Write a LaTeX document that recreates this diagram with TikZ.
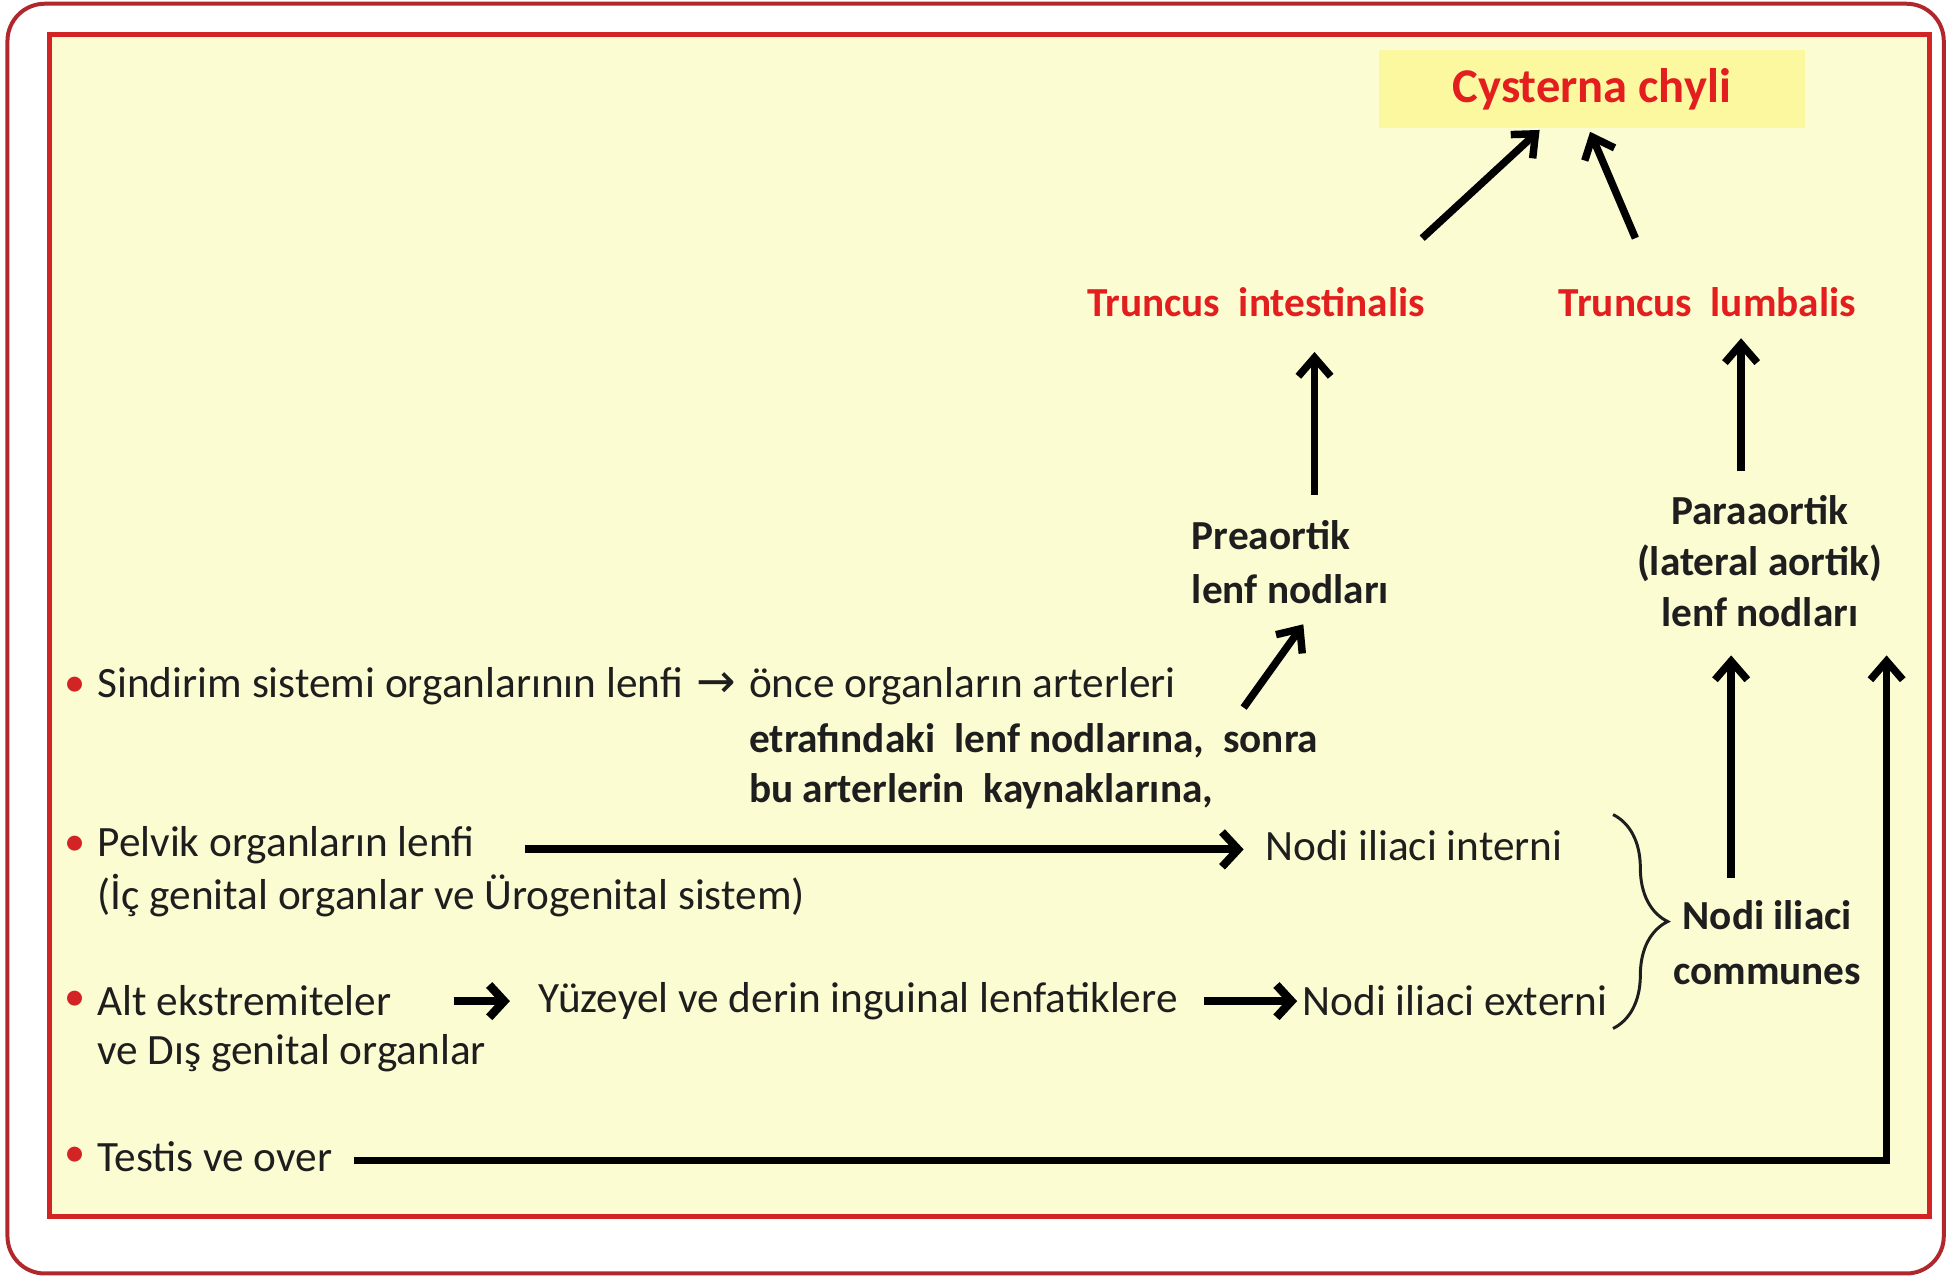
\documentclass[tikz,border=0pt]{standalone}
\usepackage{fontspec}
\setmainfont{Carlito}
\newfontfamily\arrowfont{DejaVu Sans}
\usetikzlibrary{arrows.meta,decorations.pathreplacing,calc}
\definecolor{bgyellow}{HTML}{FCFCD2}
\definecolor{cystfill}{HTML}{FBF8A0}
\definecolor{borderred}{HTML}{D22424}
\definecolor{outerred}{HTML}{B0282E}
\definecolor{textred}{HTML}{E21E1E}
\definecolor{txt}{HTML}{1E1E1E}
\tikzset{
  reg/.style={font=\fontsize{17.4}{20}\selectfont, text=txt, inner sep=0pt},
  bld/.style={font=\fontsize{16.6}{22}\selectfont\bfseries, text=txt, inner sep=0pt},
  redlbl/.style={font=\fontsize{16.6}{20}\selectfont\bfseries, text=textred, inner sep=0pt},
  bul/.style={font=\fontsize{17}{20}\selectfont, text=borderred, inner sep=0pt},
  arr/.style={line width=3pt, draw=black, -{Straight Barb[length=7.5pt,width=13pt]}},
  bigarr/.style={line width=3.2pt, draw=black, -{Straight Barb[length=6.5pt,width=14pt]}},
  fatarr/.style={line width=3.4pt, draw=black, -{Straight Barb[length=6pt,width=13pt]}},
}
\begin{document}
\begin{tikzpicture}[x=0.5pt,y=-0.5pt]
\useasboundingbox (0,0) rectangle (1568,1027.6);
\draw[outerred, line width=1.6pt, fill=white, rounded corners=15pt] (6,3) rectangle (1563,1024);
\draw[borderred, line width=2pt, fill=bgyellow] (39.5,28) rectangle (1551.5,978.5);

% top
\node[fill=cystfill, minimum width=171pt, minimum height=31.5pt, inner sep=0pt,
      font=\fontsize{19.5}{22}\selectfont\bfseries, text=textred] (cyst) at (1280,71.5) {Cysterna chyli};
\node[redlbl] (tint) at (1010,243) {Truncus\ \ intestinalis};
\node[redlbl] (tlum) at (1373,243) {Truncus\ \ lumbalis};

\node[bld, align=left, anchor=west] (pre) at (958,452) {Preaortik\\lenf nodları};
\node[font=\fontsize{16.6}{20.5}\selectfont\bfseries, text=txt, inner sep=0pt, align=center] (para) at (1415,451) {Paraaortik\\(lateral aortik)\\lenf nodları};
\node[bld, align=center] (comm) at (1421,758) {Nodi iliaci\\communes};

% left column
\node[bul] (b1) at (60,552) {•};
\node[bul] (b2) at (60,680) {•};
\node[bul] (b3) at (60,805) {•};
\node[bul] (b4) at (60,930) {•};

\node[reg, anchor=west] (sind) at (78,552) {Sindirim sistemi organlarının lenfi};
\node[reg, font=\fontsize{19}{20}\arrowfont] (sarr) at (576,551) {→};
\node[reg, anchor=west] (once) at (602,552) {önce organların arterleri};
\node[bld, anchor=west] (etr) at (602,596) {etrafındaki\ \ lenf nodlarına,\ \ sonra};
\node[bld, anchor=west] (bu) at (602,636) {bu arterlerin\ \ kaynaklarına,};

\node[reg, anchor=west] (pelvik) at (78,680) {Pelvik organların lenfi};
\node[reg, anchor=west] (ic) at (78,720) {(İç genital organlar ve Ürogenital sistem)};
\node[reg, anchor=west] (interni) at (1017,680) {Nodi iliaci interni};

\node[reg, anchor=west] (alt) at (78,805) {Alt ekstremiteler};
\node[reg, anchor=west] (vedis) at (78,847) {ve Dış genital organlar};
\node[reg, anchor=west] (yuz) at (433,805) {Yüzeyel ve derin inguinal lenfatiklere};
\node[reg, anchor=west] (externi) at (1047,805) {Nodi iliaci externi};

\node[reg, anchor=west] (testis) at (78,930) {Testis ve over};

% connectors
\draw[arr] ($(tint.center)+(133.6,-51.5)$) -- ($(cyst.center)+(-42,33)$);
\draw[arr] ($(tlum.center)+(-58,-51.5)$) -- ($(cyst.center)+(-1.4,34.5)$);
\draw[arr] ($(pre.west)+(99,-54)$) -- ($(tint.center)+(47,40)$);
\draw[arr] ($(para.center)+(-15,-72)$) -- ($(tlum.center)+(27,29)$);
\draw[arr] ($(etr.west)+(398,-27)$) -- ($(pre.west)+(90,50)$);
\draw[arr] ($(comm.center)+(-29,-52)$) -- ($(para.center)+(-23,76)$);
\draw[arr] ($(testis.west)+(207,3)$) -| ($(para.center)+(102,76)$);
\draw[bigarr] ($(pelvik.west)+(344,3)$) -- ($(interni.west)+(-17,3)$);
\draw[fatarr] ($(alt.west)+(287,0)$) -- ($(yuz.west)+(-23,0)$);
\draw[fatarr] ($(yuz.west)+(535,0)$) -- ($(externi.west)+(-4,0)$);
\draw[txt, line width=1.2pt, decorate, decoration={brace, amplitude=22pt}]
  ($(interni.west)+(280,-25)$) -- ($(externi.west)+(250,22)$);
\end{tikzpicture}
\end{document}
